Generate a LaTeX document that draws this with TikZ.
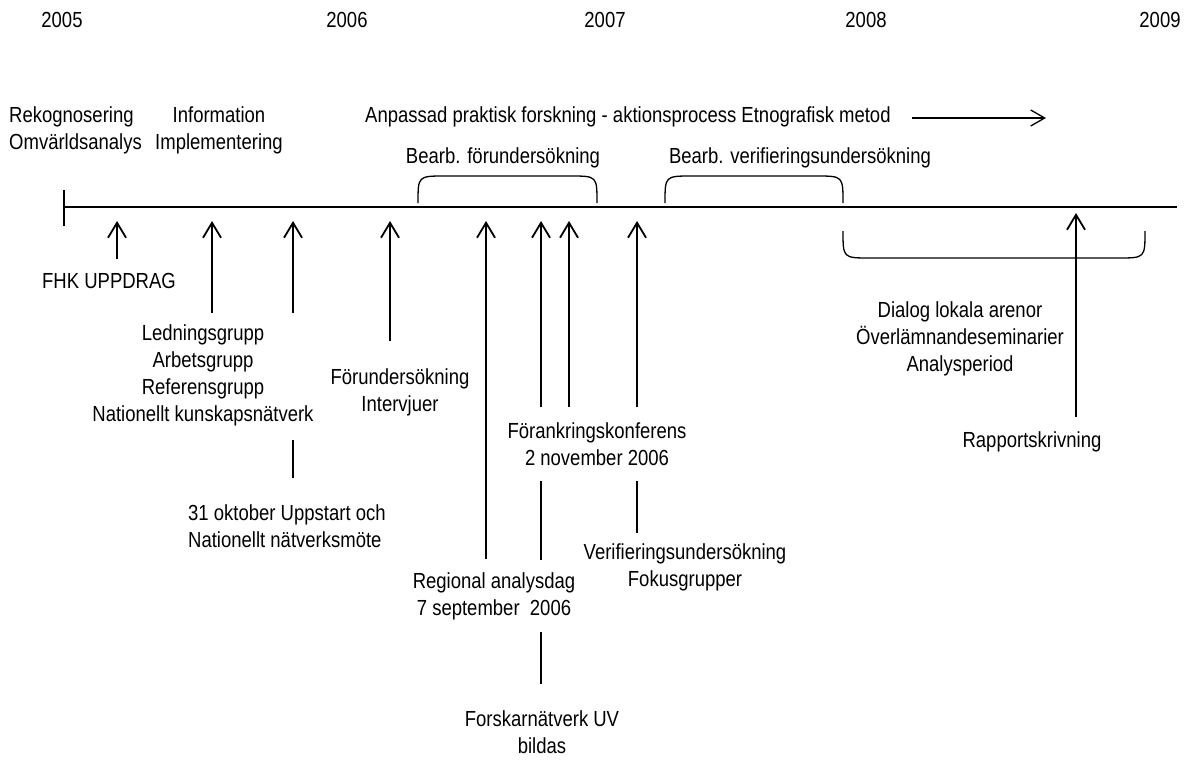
\documentclass[tikz,border=0pt]{standalone}
\usepackage{fontspec}
\usepackage{graphicx}
\setmainfont{Liberation Sans}
\usetikzlibrary{arrows.meta}
\newcommand{\tx}[2][c]{\scalebox{1}[1.18]{\begin{tabular}{@{}#1@{}}#2\end{tabular}}}
\begin{document}
\begin{tikzpicture}[x=1pt,y=-1pt,
  lbl/.style={font=\fontsize{18.5}{22.9}\selectfont, inner sep=0pt},
  lbll/.style={lbl, anchor=west},
  axis/.style={line width=2pt},
  up/.style={line width=1.8pt, -{Straight Barb[length=15pt,width=18pt]}},
  seg/.style={line width=1.8pt},
  brace/.style={line width=1.3pt},
  longarr/.style={line width=1.3pt, -{Straight Barb[length=14pt,width=16pt]}}]
\useasboundingbox (0,0) rectangle (1186,760);
% years
\node[lbl] (y5) at (62,22) {\tx{2005}};
\node[lbl] (y6) at (347,22) {\tx{2006}};
\node[lbl] (y7) at (605,22) {\tx{2007}};
\node[lbl] (y8) at (866,22) {\tx{2008}};
\node[lbl] (y9) at (1160,22) {\tx{2009}};
% top labels
\node[lbll] (rek) at (9,130.5) {\tx[l]{Rekognosering\\Omvärldsanalys}};
\node[lbl] (info) at (219,130.5) {\tx{Information\\Implementering}};
\node[lbll] (anp) at (365,117) {\tx{Anpassad praktisk forskning - aktionsprocess Etnografisk metod}};
\coordinate (anpS) at (912,118);
\coordinate (anpE) at (1046,118);
\draw[longarr] (anpS) -- (anpE);
\node[lbl] (bf) at (503,158) {\tx{Bearb. förundersökning}};
\node[lbl] (bv) at (800,158) {\tx{Bearb. verifieringsundersökning}};
% braces
\draw[brace] (418,203) .. controls (418,176) and (418,176) .. (445,176) -- (570,176) .. controls (597,176) and (597,176) .. (597,203);
\draw[brace] (665,203) .. controls (665,176) and (665,176) .. (692,176) -- (816,176) .. controls (843,176) and (843,176) .. (843,203);
\draw[brace] (843,231) .. controls (843,258) and (843,258) .. (870,258) -- (1118,258) .. controls (1145,258) and (1145,258) .. (1145,231);
% axis
\coordinate (ax0) at (64,207);
\coordinate (ax1) at (1177,207);
\coordinate (tk0) at (64,190);
\coordinate (tk1) at (64,226);
\draw[axis] (ax0) -- (ax1);
\draw[axis] (tk0) -- (tk1);
% arrows
\coordinate (a1b) at (117,259); \coordinate (a1t) at (117,221);
\coordinate (a2b) at (212,313); \coordinate (a2t) at (212,221);
\coordinate (a3b) at (293,313); \coordinate (a3t) at (293,221);
\coordinate (a4b) at (390,341); \coordinate (a4t) at (390,221);
\coordinate (a5b) at (486,559); \coordinate (a5t) at (486,221);
\coordinate (a6b) at (541,407); \coordinate (a6t) at (541,221);
\coordinate (a7b) at (569,407); \coordinate (a7t) at (569,221);
\coordinate (a8b) at (637,407); \coordinate (a8t) at (637,221);
\coordinate (a9b) at (1076,417); \coordinate (a9t) at (1076,213);
\foreach \i in {1,...,9} \draw[up] (a\i b) -- (a\i t);
% segments
\coordinate (s1a) at (293,440); \coordinate (s1b) at (293,478);
\coordinate (s2a) at (541,481); \coordinate (s2b) at (541,560);
\coordinate (s3a) at (541,632); \coordinate (s3b) at (541,684);
\coordinate (s4a) at (637,481); \coordinate (s4b) at (637,533);
\foreach \i in {1,...,4} \draw[seg] (s\i a) -- (s\i b);
% labels
\node[lbl] (fhk) at (109,283) {\tx{FHK UPPDRAG}};
\node[lbl] (led) at (203,376) {\tx{Ledningsgrupp\\Arbetsgrupp\\Referensgrupp\\Nationellt kunskapsnätverk}};
\node[lbl] (forund) at (400,393) {\tx{Förundersökning\\Intervjuer}};
\node[lbll] (okt) at (188,529) {\tx[l]{31 oktober Uppstart och\\Nationellt nätverksmöte}};
\node[lbl] (fork) at (597,446.5) {\tx{Förankringskonferens\\2 november 2006}};
\node[lbl] (reg) at (494,597) {\tx{Regional analysdag\\7 september\ \ 2006}};
\node[lbl] (ver) at (685,568) {\tx{Verifieringsundersökning\\Fokusgrupper}};
\node[lbl] (forsk) at (542,734.5) {\tx{Forskarnätverk UV\\bildas}};
\node[lbl] (dial) at (960,339.5) {\tx{Dialog lokala arenor\\Överlämnandeseminarier\\Analysperiod}};
\node[lbl] (rap) at (1032,442) {\tx{Rapportskrivning}};
\end{tikzpicture}
\end{document}
